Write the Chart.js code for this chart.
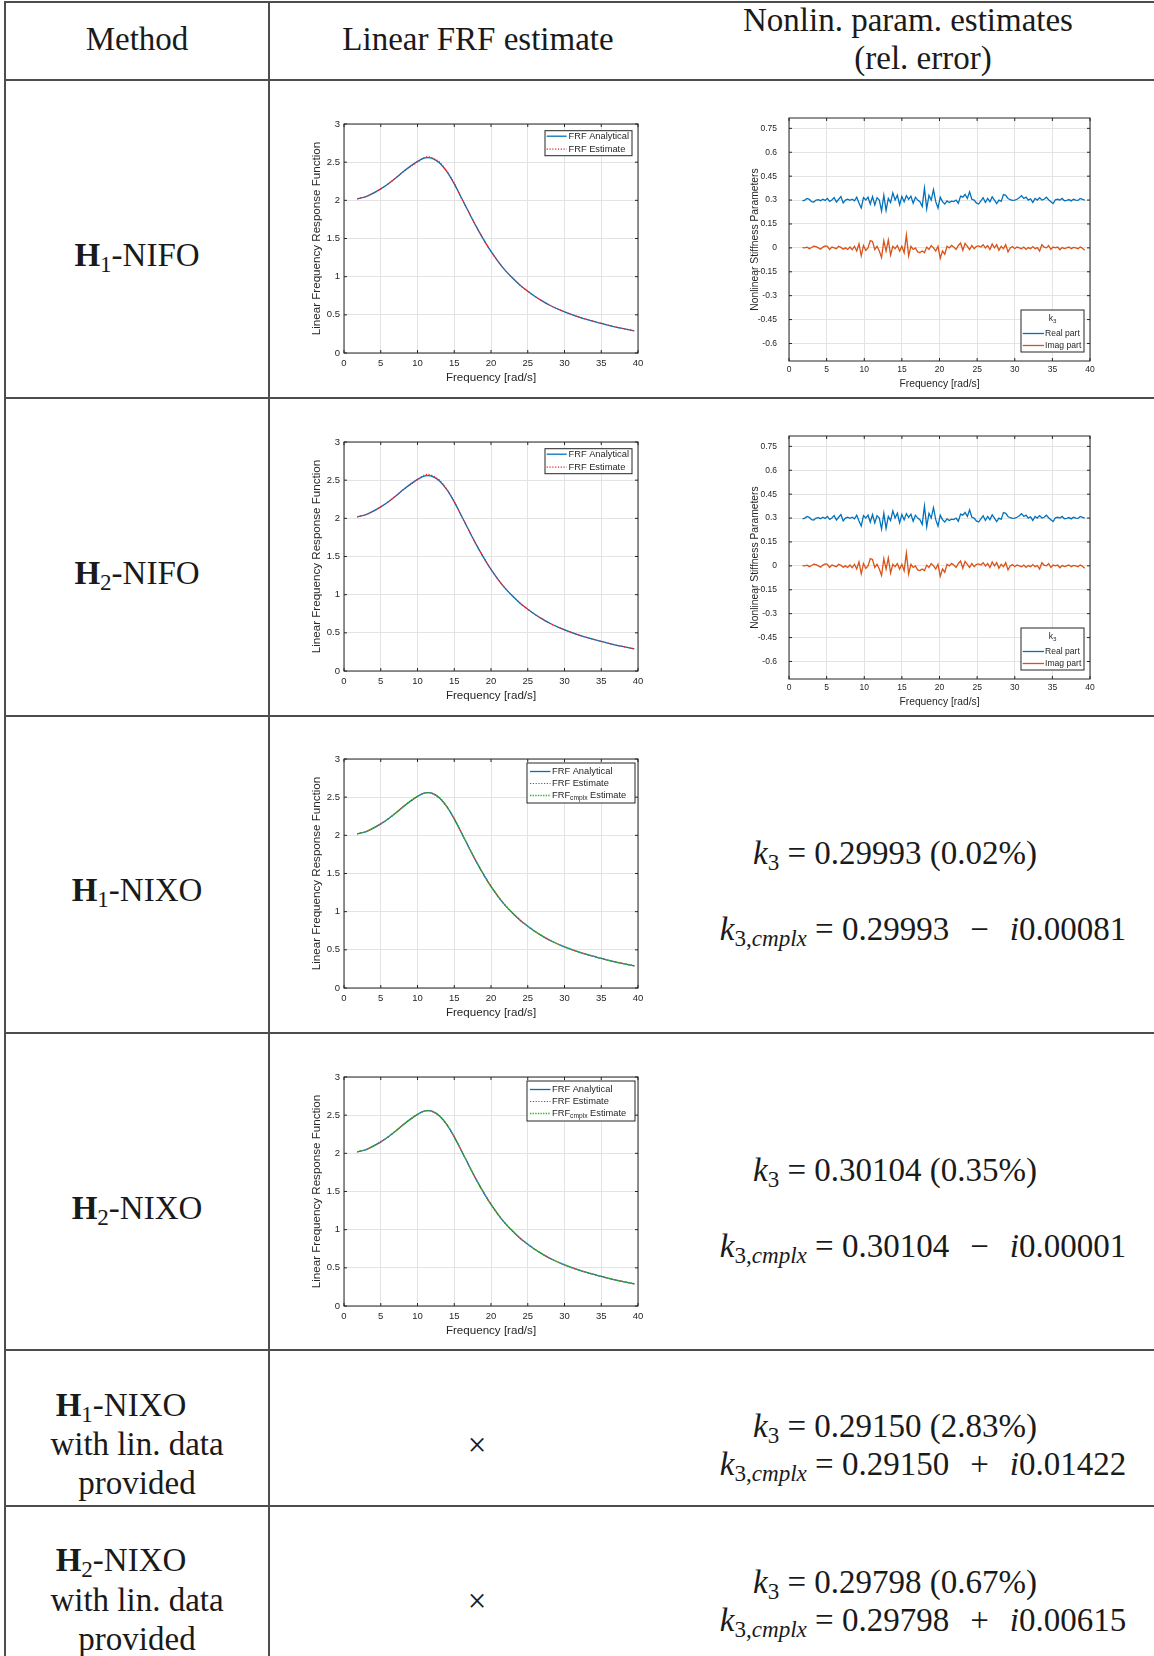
<!DOCTYPE html>
<html>
<head>
<meta charset="utf-8">
<script src="https://cdn.jsdelivr.net/npm/chart.js@4.4.1/dist/chart.umd.min.js"></script>
<style>
  html, body { margin: 0; padding: 0; background: #fff; }
  body { width: 1154px; height: 1656px; position: relative; overflow: hidden;
         font-family: "Liberation Serif", "Times New Roman", serif; color: #1a1a1a; }
  .hl { position: absolute; left: 4px; right: 0; height: 1.5px; background: #4d4d4d; }
  .vl { position: absolute; top: 2px; bottom: 0; width: 1.5px; background: #4d4d4d; }
  .t { position: absolute; transform: translate(-50%, -50%); white-space: nowrap; font-size: 33px; line-height: 1; }
  .t sub { font-size: 70%; vertical-align: -0.28em; line-height: 0; }
  .op { margin: 0 21px; }
  canvas { position: absolute; }
</style>
</head>
<body>

<!-- table rules -->
<div class="hl" style="top:1px"></div>
<div class="hl" style="top:79px"></div>
<div class="hl" style="top:397px"></div>
<div class="hl" style="top:715px"></div>
<div class="hl" style="top:1032px"></div>
<div class="hl" style="top:1349px"></div>
<div class="hl" style="top:1505px"></div>
<div class="vl" style="left:4px"></div>
<div class="vl" style="left:268px"></div>

<!-- header -->
<div class="t" style="left:137px;top:39px">Method</div>
<div class="t" style="left:478px;top:39px">Linear FRF estimate</div>
<div class="t" style="left:908px;top:20px">Nonlin. param. estimates</div>
<div class="t" style="left:923px;top:58px">(rel. error)</div>

<!-- method column -->
<div class="t" style="left:137px;top:255px"><b>H</b><sub>1</sub>-NIFO</div>
<div class="t" style="left:137px;top:573px"><b>H</b><sub>2</sub>-NIFO</div>
<div class="t" style="left:137px;top:890px"><b>H</b><sub>1</sub>-NIXO</div>
<div class="t" style="left:137px;top:1208px"><b>H</b><sub>2</sub>-NIXO</div>
<div class="t" style="left:121px;top:1405px"><b>H</b><sub>1</sub>-NIXO</div>
<div class="t" style="left:137px;top:1444px">with lin. data</div>
<div class="t" style="left:137px;top:1483px">provided</div>
<div class="t" style="left:121px;top:1560px"><b>H</b><sub>2</sub>-NIXO</div>
<div class="t" style="left:137px;top:1600px">with lin. data</div>
<div class="t" style="left:137px;top:1639px">provided</div>

<!-- no FRF for last rows -->
<div class="t" style="left:477px;top:1445px">×</div>
<div class="t" style="left:477px;top:1601px">×</div>

<!-- nonlinear parameter estimates -->
<div class="t" style="left:895px;top:853px"><i>k</i><sub>3</sub> = 0.29993 (0.02%)</div>
<div class="t" style="left:923px;top:929px"><i>k</i><sub>3,<i>cmplx</i></sub> = 0.29993<span class="op">−</span><i>i</i>0.00081</div>
<div class="t" style="left:895px;top:1170px"><i>k</i><sub>3</sub> = 0.30104 (0.35%)</div>
<div class="t" style="left:923px;top:1246px"><i>k</i><sub>3,<i>cmplx</i></sub> = 0.30104<span class="op">−</span><i>i</i>0.00001</div>
<div class="t" style="left:895px;top:1426px"><i>k</i><sub>3</sub> = 0.29150 (2.83%)</div>
<div class="t" style="left:923px;top:1464px"><i>k</i><sub>3,<i>cmplx</i></sub> = 0.29150<span class="op">+</span><i>i</i>0.01422</div>
<div class="t" style="left:895px;top:1582px"><i>k</i><sub>3</sub> = 0.29798 (0.67%)</div>
<div class="t" style="left:923px;top:1620px"><i>k</i><sub>3,<i>cmplx</i></sub> = 0.29798<span class="op">+</span><i>i</i>0.00615</div>

<canvas id="frf1" width="360" height="280" style="left:290px;top:110px"></canvas>
<canvas id="stf1" width="370" height="285" style="left:730px;top:110px"></canvas>
<canvas id="frf2" width="360" height="280" style="left:290px;top:428px"></canvas>
<canvas id="stf2" width="370" height="285" style="left:730px;top:428px"></canvas>
<canvas id="frf3" width="360" height="280" style="left:290px;top:745px"></canvas>
<canvas id="frf4" width="360" height="280" style="left:290px;top:1063px"></canvas>

<script>
// ---- data ----
const frfFreq = [1.8, 3, 4, 5, 6, 7, 8, 9, 10, 11, 11.5, 12, 13, 14, 15, 16, 17, 18, 19, 20,
  21, 22, 23, 24, 25, 26, 27, 28, 29, 30, 31, 32, 33, 34, 35, 36, 37, 38, 39, 39.5];
const frfAnalytical = [2.02, 2.05, 2.095, 2.15, 2.215, 2.29, 2.37, 2.445, 2.51, 2.555, 2.56, 2.55, 2.49, 2.375, 2.215, 2.03, 1.84, 1.655, 1.485, 1.33,
  1.195, 1.075, 0.975, 0.885, 0.81, 0.74, 0.68, 0.625, 0.58, 0.54, 0.503, 0.47, 0.44, 0.413, 0.388, 0.362, 0.34, 0.32, 0.30, 0.29];
const frfEstH1 = [2.02, 2.05, 2.095, 2.15, 2.215, 2.29, 2.37, 2.44, 2.50, 2.565, 2.57, 2.555, 2.50, 2.38, 2.225, 2.02, 1.84, 1.655, 1.485, 1.33,
  1.195, 1.075, 0.975, 0.885, 0.81, 0.74, 0.68, 0.625, 0.58, 0.54, 0.503, 0.47, 0.44, 0.413, 0.388, 0.362, 0.34, 0.32, 0.30, 0.29];
const frfEstH2 = [2.02, 2.05, 2.095, 2.15, 2.215, 2.29, 2.37, 2.44, 2.505, 2.57, 2.575, 2.56, 2.50, 2.38, 2.22, 2.025, 1.84, 1.655, 1.485, 1.33,
  1.195, 1.075, 0.975, 0.885, 0.81, 0.74, 0.68, 0.625, 0.58, 0.54, 0.503, 0.47, 0.44, 0.413, 0.388, 0.362, 0.34, 0.32, 0.30, 0.29];

const stiffFreq = [
  1.8, 2.1, 2.4, 2.7, 3.0, 3.3, 3.6, 3.9, 4.2, 4.5, 4.8, 5.1, 5.4, 5.7, 6.0, 6.3, 6.6, 6.9, 7.2, 7.5, 7.8, 8.1,
  8.4, 8.7, 9.0, 9.3, 9.6, 9.9, 10.2, 10.5, 10.8, 11.1, 11.4, 11.7, 12.0, 12.3, 12.6, 12.9, 13.2, 13.5, 13.8, 14.1,
  14.4, 14.7, 15.0, 15.3, 15.6, 15.9, 16.2, 16.5, 16.8, 17.1, 17.4, 17.7, 18.0, 18.3, 18.6, 18.9, 19.2, 19.5, 19.8, 20.1,
  20.4, 20.7, 21.0, 21.3, 21.6, 21.9, 22.2, 22.5, 22.8, 23.1, 23.4, 23.7, 24.0, 24.3, 24.6, 24.9, 25.2, 25.5, 25.8, 26.1,
  26.4, 26.7, 27.0, 27.3, 27.6, 27.9, 28.2, 28.5, 28.8, 29.1, 29.4, 29.7, 30.0, 30.3, 30.6, 30.9, 31.2, 31.5, 31.8, 32.1,
  32.4, 32.7, 33.0, 33.3, 33.6, 33.9, 34.2, 34.5, 34.8, 35.1, 35.4, 35.7, 36.0, 36.3, 36.6, 36.9, 37.2, 37.5, 37.8, 38.1,
  38.4, 38.7, 39.0, 39.3];
const k3Real = [
  0.295, 0.300, 0.310, 0.305, 0.290, 0.288, 0.300, 0.302, 0.296, 0.305, 0.298, 0.310, 0.292, 0.300, 0.315, 0.288, 0.305, 0.322, 0.282, 0.300, 0.305, 0.298,
  0.305, 0.295, 0.318, 0.282, 0.250, 0.315, 0.300, 0.318, 0.275, 0.322, 0.270, 0.315, 0.300, 0.232, 0.330, 0.235, 0.310, 0.285, 0.345, 0.300,
  0.330, 0.270, 0.322, 0.290, 0.328, 0.305, 0.325, 0.280, 0.318, 0.300, 0.290, 0.260, 0.375, 0.245, 0.330, 0.300, 0.365, 0.290, 0.250, 0.318,
  0.290, 0.275, 0.295, 0.285, 0.293, 0.290, 0.300, 0.280, 0.325, 0.318, 0.335, 0.310, 0.352, 0.305, 0.300, 0.282, 0.275, 0.295, 0.315, 0.285,
  0.310, 0.290, 0.320, 0.300, 0.278, 0.300, 0.292, 0.335, 0.330, 0.310, 0.302, 0.298, 0.300, 0.305, 0.315, 0.328, 0.310, 0.318, 0.300, 0.308,
  0.285, 0.310, 0.300, 0.315, 0.300, 0.305, 0.318, 0.302, 0.290, 0.278, 0.302, 0.305, 0.300, 0.310, 0.296, 0.298, 0.303, 0.295, 0.305, 0.300,
  0.298, 0.310, 0.305, 0.300];
const k3Imag = [
  0.002, 0.000, 0.004, -0.005, 0.002, 0.010, 0.008, 0.000, -0.008, 0.005, 0.012, 0.010, -0.010, 0.005, 0.000, -0.005, 0.010, 0.003, -0.008, 0.000, -0.010, 0.005,
  -0.012, 0.010, -0.020, 0.025, -0.050, 0.015, -0.015, 0.000, 0.045, 0.040, -0.010, 0.010, -0.020, -0.060, 0.045, -0.020, 0.050, -0.045, 0.010, -0.005,
  0.015, -0.020, 0.010, -0.030, 0.080, -0.050, 0.010, -0.010, 0.000, -0.025, -0.030, -0.020, -0.030, 0.005, -0.010, 0.015, 0.000, -0.020, 0.010, -0.065,
  -0.020, -0.040, 0.010, 0.000, 0.015, 0.005, -0.010, 0.015, 0.030, -0.015, 0.028, 0.010, -0.010, 0.015, -0.005, 0.010, 0.012, 0.005, 0.020, 0.000,
  0.015, -0.010, 0.025, 0.000, 0.020, -0.015, 0.010, -0.005, 0.020, -0.025, 0.000, 0.008, -0.005, 0.005, 0.000, -0.005, 0.005, -0.010, 0.002, -0.005,
  0.008, -0.005, 0.002, -0.020, 0.020, 0.005, 0.000, 0.015, -0.010, 0.005, 0.000, 0.005, -0.012, 0.002, -0.005, 0.000, 0.005, -0.005, 0.003, 0.000,
  -0.005, 0.005, -0.002, -0.015];

const freqTicks = [0, 5, 10, 15, 20, 25, 30, 35, 40];
const frfTicks = [0, 0.5, 1, 1.5, 2, 2.5, 3];
const stiffTicks = [-0.6, -0.45, -0.3, -0.15, 0, 0.15, 0.3, 0.45, 0.6, 0.75];

// ---- styling ----
const SANS = '"Liberation Sans", Arial, Helvetica, sans-serif';
const INK = '#262626';
const GRID = '#e3e3e3';
const BLUE = '#0072BD';
const ORANGE = '#D95319';

const pts = (xs, ys) => xs.map((x, i) => ({ x, y: ys[i] }));

// draws text like 'FRF_{cmplx} Estimate' with a subscript part
function richText(ctx, text, x, y, align, size) {
  const parts = text.split(/_\{([^}]*)\}/);
  const fonts = parts.map((p, i) => (i % 2 ? size * 0.72 : size));
  let total = 0;
  parts.forEach((p, i) => { ctx.font = `${fonts[i]}px ${SANS}`; total += ctx.measureText(p).width; });
  let cx = align === 'center' ? x - total / 2 : x;
  ctx.textAlign = 'left';
  parts.forEach((p, i) => {
    ctx.font = `${fonts[i]}px ${SANS}`;
    ctx.fillText(p, cx, i % 2 ? y + size * 0.32 : y);
    cx += ctx.measureText(p).width;
  });
}

// MATLAB-like box with inward ticks
const matlabAxes = {
  id: 'matlabAxes',
  afterDatasetsDraw(chart) {
    const { ctx, chartArea: a, scales: { x, y } } = chart;
    ctx.save();
    ctx.strokeStyle = INK;
    ctx.lineWidth = 1;
    ctx.strokeRect(a.left, a.top, a.right - a.left, a.bottom - a.top);
    const tl = 3;
    ctx.beginPath();
    x.ticks.forEach(t => {
      const px = x.getPixelForValue(t.value);
      ctx.moveTo(px, a.bottom); ctx.lineTo(px, a.bottom - tl);
      ctx.moveTo(px, a.top); ctx.lineTo(px, a.top + tl);
    });
    y.ticks.forEach(t => {
      const py = y.getPixelForValue(t.value);
      ctx.moveTo(a.left, py); ctx.lineTo(a.left + tl, py);
      ctx.moveTo(a.right, py); ctx.lineTo(a.right - tl, py);
    });
    ctx.stroke();
    ctx.restore();
  }
};

// legend box inside the axes
const boxLegend = {
  id: 'boxLegend',
  afterDraw(chart, args, o) {
    const { ctx, chartArea: a } = chart;
    const left = a.right - o.right - o.width;
    const top = o.bottom != null ? a.bottom - o.bottom - o.height : a.top + o.top;
    ctx.save();
    ctx.fillStyle = '#fff';
    ctx.fillRect(left, top, o.width, o.height);
    ctx.strokeStyle = INK;
    ctx.lineWidth = 1;
    ctx.strokeRect(left, top, o.width, o.height);
    ctx.textBaseline = 'middle';
    ctx.fillStyle = INK;
    if (o.title) richText(ctx, o.title, left + o.width / 2, top + o.titleY, 'center', o.fontSize);
    chart.data.datasets.forEach((ds, i) => {
      const y = top + o.rowY[i];
      ctx.strokeStyle = ds.borderColor;
      ctx.lineWidth = ds.borderWidth;
      ctx.setLineDash(ds.borderDash || []);
      ctx.beginPath();
      ctx.moveTo(left + o.lineX[0], y);
      ctx.lineTo(left + o.lineX[1], y);
      ctx.stroke();
      ctx.setLineDash([]);
      ctx.fillStyle = INK;
      richText(ctx, ds.label, left + o.textX, y, 'left', o.fontSize);
    });
    ctx.restore();
  }
};

function axisScale(cfg) {
  return {
    type: 'linear',
    min: cfg.min, max: cfg.max,
    afterBuildTicks: s => { s.ticks = cfg.ticks.map(v => ({ value: v })); },
    afterFit: s => {
      if (cfg.width) s.width = cfg.width;
      if (cfg.height) s.height = cfg.height;
      // keep the plot box where it is, labels may overhang
      s.paddingTop = 0; s.paddingBottom = 0; s.paddingLeft = 0; s.paddingRight = 0;
    },
    grid: { color: GRID, lineWidth: 1, drawTicks: false },
    border: { display: false },
    ticks: { color: INK, padding: cfg.pad, font: { family: SANS, size: cfg.tickSize }, callback: v => String(v) },
    title: { display: true, text: cfg.title, color: INK, padding: cfg.titlePad,
             font: { family: SANS, size: cfg.titleSize } }
  };
}

function frfChart(id, datasets, legend) {
  new Chart(document.getElementById(id), {
    type: 'line',
    data: { datasets },
    options: {
      responsive: false, animation: false, devicePixelRatio: 1,
      layout: { padding: { left: 0, top: 14, right: 12, bottom: 0 } },
      elements: { point: { radius: 0 } },
      plugins: { legend: { display: false }, tooltip: { enabled: false }, boxLegend: legend },
      scales: {
        x: axisScale({ min: 0, max: 40, ticks: freqTicks, height: 37, pad: 5, tickSize: 9.5,
                       title: 'Frequency [rad/s]', titleSize: 11.6, titlePad: { top: 0, bottom: 5 } }),
        y: axisScale({ min: 0, max: 3, ticks: frfTicks, width: 54, pad: 4, tickSize: 9.5,
                       title: 'Linear Frequency Response Function', titleSize: 11.6, titlePad: { top: 20, bottom: 0 } })
      }
    },
    plugins: [matlabAxes, boxLegend]
  });
}

function stiffChart(id) {
  new Chart(document.getElementById(id), {
    type: 'line',
    data: {
      datasets: [
        { label: 'Real part', data: pts(stiffFreq, k3Real), borderColor: BLUE, borderWidth: 1.3 },
        { label: 'Imag part', data: pts(stiffFreq, k3Imag), borderColor: ORANGE, borderWidth: 1.3 }
      ]
    },
    options: {
      responsive: false, animation: false, devicePixelRatio: 1,
      layout: { padding: { left: 0, top: 8, right: 10, bottom: 0 } },
      elements: { point: { radius: 0 }, line: { tension: 0 } },
      plugins: {
        legend: { display: false }, tooltip: { enabled: false },
        boxLegend: { right: 6, bottom: 9, width: 63, height: 42, fontSize: 8.6, title: 'k_{3}', titleY: 8.5,
                     rowY: [23.5, 35.5], lineX: [1.7, 23], textX: 24 }
      },
      scales: {
        x: axisScale({ min: 0, max: 40, ticks: freqTicks, height: 34, pad: 4, tickSize: 8.5,
                       title: 'Frequency [rad/s]', titleSize: 10.3, titlePad: { top: 0, bottom: 5 } }),
        y: axisScale({ min: -0.71, max: 0.815, ticks: stiffTicks, width: 59, pad: 12, tickSize: 8.5,
                       title: 'Nonlinear Stiffness Parameters', titleSize: 10.3, titlePad: { top: 19, bottom: 0 } })
      }
    },
    plugins: [matlabAxes, boxLegend]
  });
}

// order: higher value is drawn first, so the dotted estimates sit on top of the analytical curve
const analyticalSet = () => ({ label: 'FRF Analytical', data: pts(frfFreq, frfAnalytical), borderColor: BLUE,
  borderWidth: 1.3, cubicInterpolationMode: 'monotone', order: 3 });
const estimateSet = ys => ({ label: 'FRF Estimate', data: pts(frfFreq, ys), borderColor: '#ff1a1a',
  borderWidth: 1.2, borderDash: [1.2, 1.6], cubicInterpolationMode: 'monotone', order: 2 });
const cmplxSet = () => ({ label: 'FRF_{cmplx} Estimate', data: pts(frfFreq, frfAnalytical), borderColor: '#2db82d',
  borderWidth: 1.3, borderDash: [1.4, 1.2], cubicInterpolationMode: 'monotone', order: 1 });

const legend2 = { right: 6, top: 6.7, width: 87, height: 25, fontSize: 9.3, rowY: [5.5, 18.5], lineX: [1.7, 21.7], textX: 23.5 };
const legend3 = { right: 3, top: 4, width: 108, height: 40, fontSize: 9.3, rowY: [8.5, 20.5, 32.5], lineX: [3, 23.5], textX: 25 };

frfChart('frf1', [analyticalSet(), estimateSet(frfEstH1)], legend2);
frfChart('frf2', [analyticalSet(), estimateSet(frfEstH2)], legend2);
frfChart('frf3', [analyticalSet(), estimateSet(frfAnalytical), cmplxSet()], legend3);
frfChart('frf4', [analyticalSet(), estimateSet(frfAnalytical), cmplxSet()], legend3);
stiffChart('stf1');
stiffChart('stf2');
</script>
</body>
</html>
